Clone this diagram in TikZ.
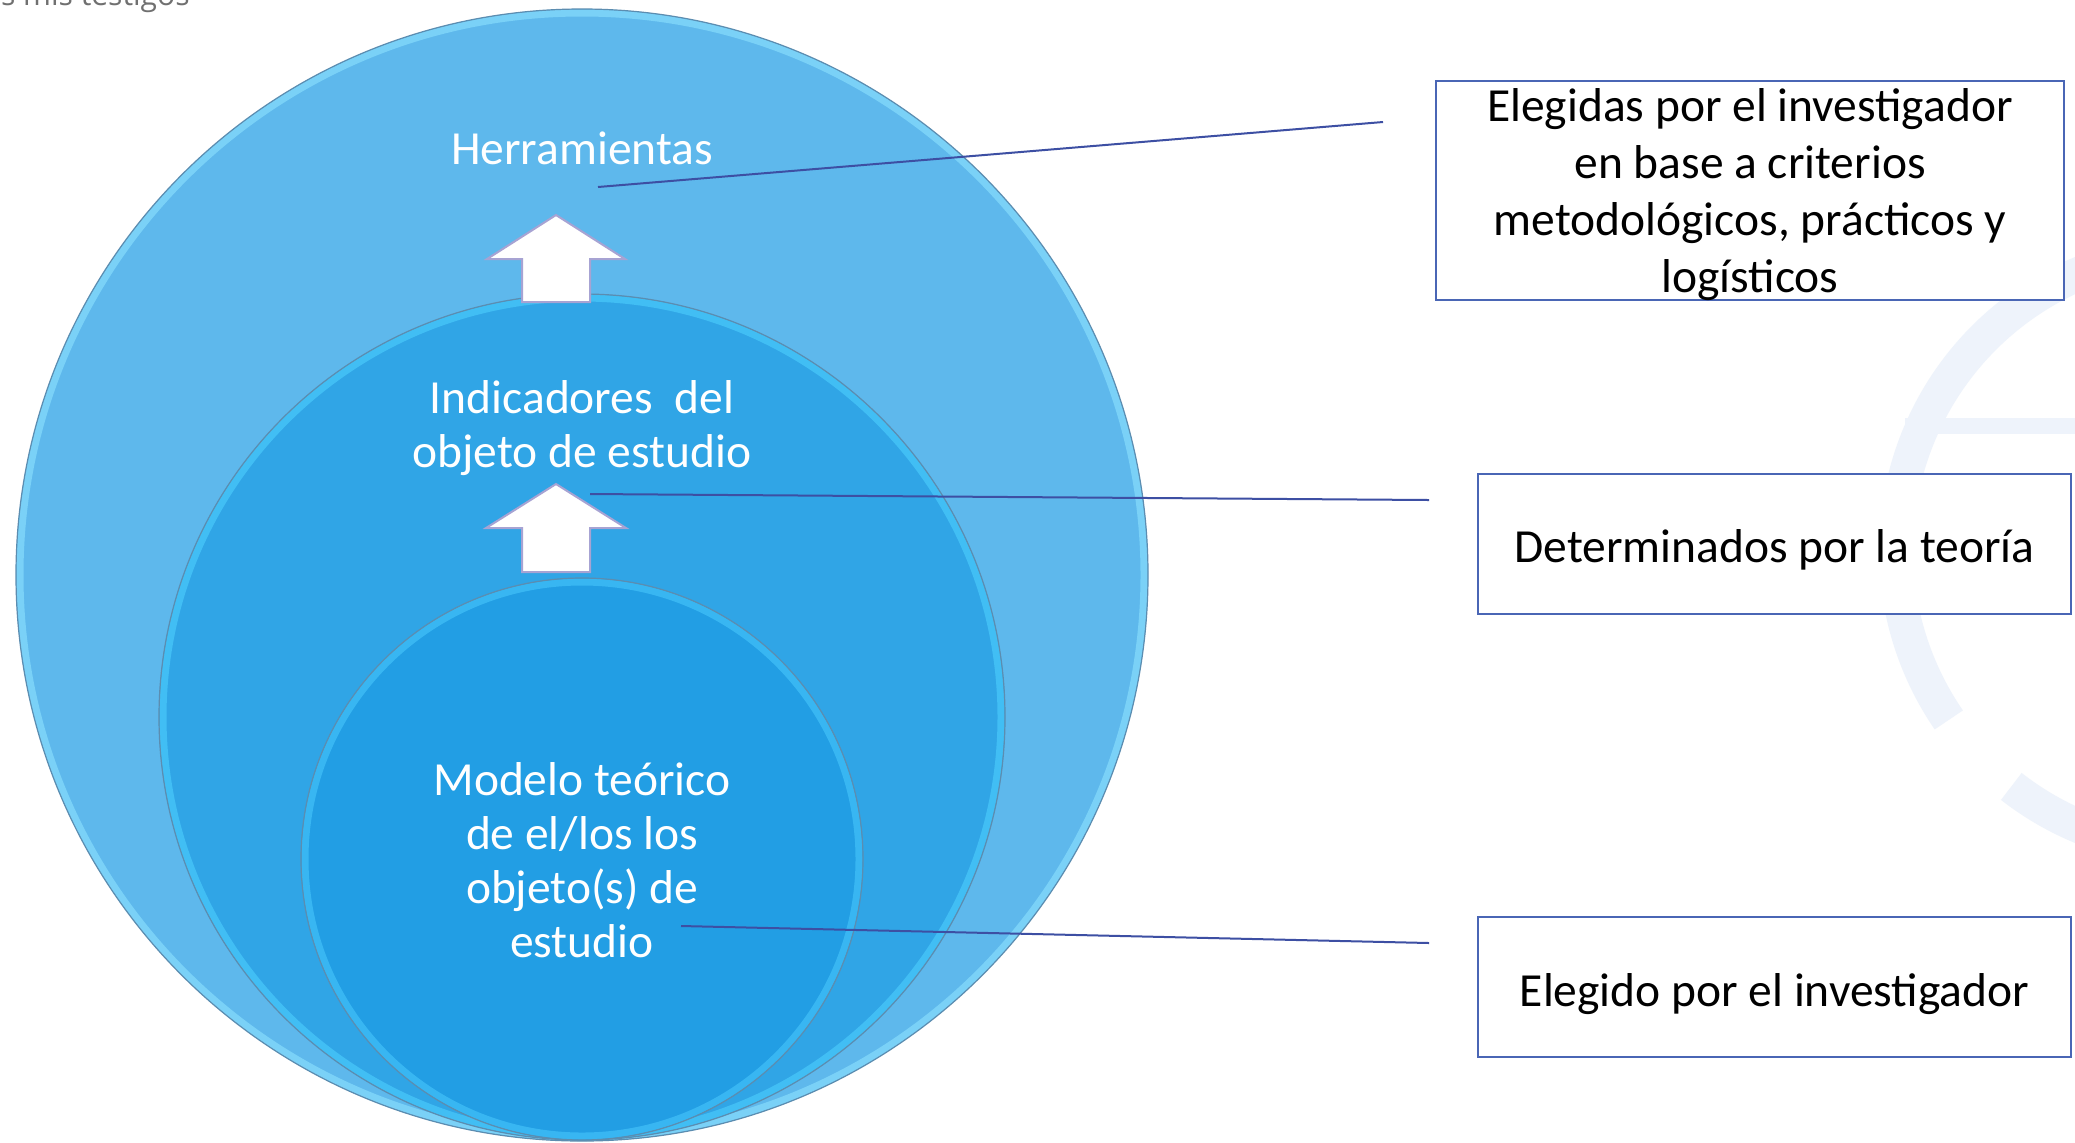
\documentclass[tikz,border=0pt]{standalone}
\usepackage{fontspec}
\setmainfont{Carlito}
\newfontfamily\graytxt{Open Sans}
\definecolor{outerfill}{HTML}{5EB8EC}
\definecolor{outerrim}{HTML}{7FD6FA}
\definecolor{midfill}{HTML}{30A5E6}
\definecolor{midrim}{HTML}{45C3F7}
\definecolor{innerfill}{HTML}{229EE4}
\definecolor{innerrim}{HTML}{3DBBF5}
\definecolor{circedge}{HTML}{5C8DB0}
\definecolor{arrowedge}{HTML}{A7A3D3}
\definecolor{boxedge}{HTML}{4A66B5}
\definecolor{connline}{HTML}{3D4FA3}
\definecolor{wm}{HTML}{EEF3FB}
\definecolor{graytext}{HTML}{707070}
\begin{document}
\begin{tikzpicture}[x=0.5pt,y=-0.5pt,
  uparrow/.style={fill=white, draw=arrowedge, line width=1pt, line join=miter},
  circtxt/.style={text=white, align=center, inner sep=0pt, font=\fontsize{23.75}{27}\selectfont},
  infobox/.style={draw=boxedge, line width=1pt, fill=white, inner sep=0pt},
  boxtxt/.style={align=center, inner sep=0pt, font=\fontsize{23.75}{28.5}\selectfont},
  conn/.style={draw=connline, line width=1pt},
  rimline/.style={line width=3.5pt, opacity=0.85},
  edgeline/.style={draw=circedge, line width=0.6pt}]
\useasboundingbox (0,0) rectangle (2075,1142);
\fill[white] (0,0) rectangle (2075,1142);
% watermark
\draw[wm, line width=17pt] (2196,550) ++(145.5:300) arc[start angle=145.5, end angle=250, radius=300];
\draw[wm, line width=17pt] (2196,550) ++(95:300) arc[start angle=95, end angle=128, radius=300];
\fill[wm] (1905,418) rectangle (2075,434);
% cut-off text at top
\node[anchor=base east, text=graytext, font=\graytxt\fontsize{15}{18}\selectfont, inner sep=0pt] (cut) at (190,5) {s mis testigos};
% boxes
\node[infobox, minimum width=314pt, minimum height=109.5pt] (b1) at (1750,190.5) {};
\node[infobox, minimum width=296.5pt, minimum height=70pt] (b2) at (1774.5,544) {};
\node[infobox, minimum width=296.5pt, minimum height=70pt] (b3) at (1774.5,987) {};
\node[boxtxt] (b1t) at ([yshift=-2.2pt]b1.center) {Elegidas por el investigador\\en base a criterios\\metodológicos, prácticos y\\logísticos};
\node[boxtxt] (b2t) at ([yshift=-2.8pt]b2.center) {Determinados por la teoría};
\node[boxtxt] (b3t) at ([yshift=-3.5pt]b3.center) {Elegido por el investigador};
% circles
\fill[outerfill] (582,575) circle[radius=283pt];
\draw[outerrim, rimline] (582,575) circle[radius=281pt];
\draw[edgeline] (582,575) circle[radius=283pt];
\fill[midfill] (582,717) circle[radius=211.5pt];
\draw[midrim, rimline] (582,717) circle[radius=209.5pt];
\draw[edgeline] (582,717) circle[radius=211.5pt];
\fill[innerfill] (582,859) circle[radius=140.5pt];
\draw[innerrim, rimline] (582,859) circle[radius=138.5pt];
\draw[edgeline] (582,859) circle[radius=140.5pt];
% arrows
\draw[uparrow] (556,215) -- (625,259) -- (590,259) -- (590,302) -- (522,302) -- (522,259) -- (487,259) -- cycle;
\draw[uparrow] (556,484) -- (626,528) -- (590,528) -- (590,572) -- (522,572) -- (522,528) -- (486,528) -- cycle;
% circle texts
\node[circtxt] (herr) at (582,148) {Herramientas};
\node[circtxt] (ind) at (582,428) {Indicadores\ \ del\\objeto de estudio};
\node[circtxt] (mod) at (582,860) {Modelo teórico\\de el/los los\\objeto(s) de\\estudio};
% connectors
\coordinate (l1a) at (598,187);
\coordinate (l1b) at (1383,122);
\coordinate (l2a) at (590,494);
\coordinate (l2b) at (1429,500);
\coordinate (l3a) at (681,926);
\coordinate (l3b) at (1429,943);
\draw[conn] (l1a) -- (l1b);
\draw[conn] (l2a) -- (l2b);
\draw[conn] (l3a) -- (l3b);
\end{tikzpicture}
\end{document}
